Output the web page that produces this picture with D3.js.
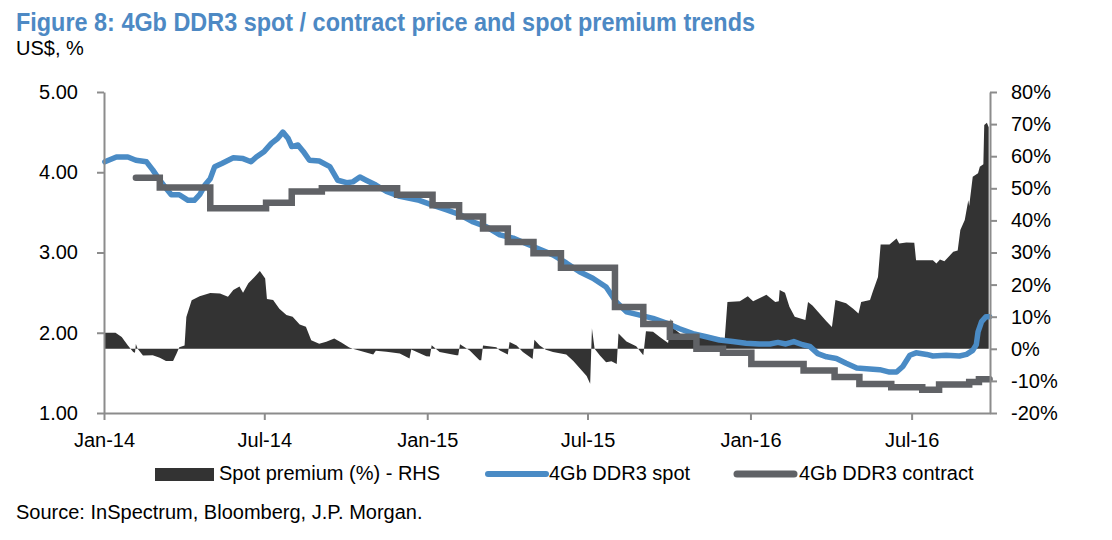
<!DOCTYPE html>
<html>
<head>
<meta charset="utf-8">
<script src="https://cdn.jsdelivr.net/npm/d3@7"></script>
<style>
  html, body { margin: 0; padding: 0; background: #ffffff; }
  svg { display: block; }
  text { font-family: "Liberation Sans", Arial, Helvetica, sans-serif; }
</style>
</head>
<body>
<svg id="chart" width="1112" height="540"></svg>
<script>
// ---------------- DATA ----------------
const titleText = "Figure 8: 4Gb DDR3 spot / contract price and spot premium trends";
const unitText = "US$, %";
const sourceText = "Source: InSpectrum, Bloomberg, J.P. Morgan.";
const seriesNames = ["Spot premium (%) - RHS", "4Gb DDR3 spot", "4Gb DDR3 contract"];

const leftTicks = [1, 2, 3, 4, 5];
const rightTicks = [-20, -10, 0, 10, 20, 30, 40, 50, 60, 70, 80];
const xStart = "2014-01-01";
const xEnd = "2016-09-27";

const spotDates = [
  "2014-01-02","2014-01-15","2014-01-28","2014-02-06","2014-02-18","2014-02-25","2014-03-05","2014-03-12",
  "2014-03-18","2014-03-27","2014-04-06","2014-04-13","2014-04-19","2014-04-25","2014-05-01","2014-05-06",
  "2014-05-14","2014-05-27","2014-06-07","2014-06-16","2014-06-22","2014-07-01","2014-07-09","2014-07-16",
  "2014-07-22","2014-07-28","2014-08-01","2014-08-08","2014-08-14","2014-08-21","2014-09-01","2014-09-13",
  "2014-09-22","2014-10-02","2014-10-09","2014-10-17","2014-10-24","2014-11-04","2014-11-16","2014-12-01",
  "2014-12-23","2015-01-07","2015-01-23","2015-02-07","2015-02-22","2015-03-09","2015-03-24","2015-04-08",
  "2015-04-23","2015-05-08","2015-05-23","2015-06-07","2015-06-22","2015-07-07","2015-07-22","2015-08-02",
  "2015-08-14","2015-08-29","2015-09-13","2015-09-28","2015-10-13","2015-10-28","2015-11-12","2015-11-27",
  "2015-12-12","2015-12-27","2016-01-11","2016-01-23","2016-02-01","2016-02-10","2016-02-19","2016-02-29",
  "2016-03-08","2016-03-17","2016-03-27","2016-04-07","2016-04-18","2016-04-30","2016-05-11","2016-05-26",
  "2016-06-06","2016-06-14","2016-06-21","2016-06-29","2016-07-06","2016-07-18","2016-07-25","2016-08-09",
  "2016-08-24","2016-09-01","2016-09-08","2016-09-12","2016-09-14","2016-09-18","2016-09-23","2016-09-27"
];
const spotValues = [
  4.13,4.19,4.19,4.15,4.13,4.03,3.90,3.80,
  3.72,3.72,3.65,3.65,3.72,3.84,3.92,4.07,
  4.11,4.18,4.17,4.13,4.19,4.26,4.36,4.42,
  4.50,4.42,4.32,4.34,4.26,4.15,4.14,4.07,
  3.90,3.87,3.88,3.94,3.90,3.84,3.76,3.70,
  3.65,3.59,3.53,3.47,3.38,3.32,3.22,3.18,
  3.11,3.04,2.97,2.87,2.76,2.68,2.57,2.39,
  2.26,2.22,2.18,2.12,2.05,1.99,1.95,1.91,
  1.89,1.87,1.86,1.86,1.88,1.86,1.89,1.85,
  1.83,1.74,1.70,1.68,1.62,1.56,1.55,1.54,
  1.51,1.51,1.58,1.72,1.75,1.73,1.71,1.72,
  1.71,1.73,1.78,1.85,2.01,2.14,2.20,2.20
];

const contractDates = [
  "2014-02-06","2014-03-05","2014-05-01","2014-07-03","2014-08-01","2014-09-04","2014-11-28",
  "2015-01-07","2015-02-06","2015-03-05","2015-04-02","2015-05-01","2015-06-01","2015-08-01",
  "2015-09-02","2015-10-02","2015-11-01","2015-12-01","2016-01-02","2016-03-01","2016-04-05",
  "2016-05-03","2016-06-08","2016-07-13","2016-08-01","2016-09-04","2016-09-15","2016-09-27"
];
const contractValues = [
  3.93,3.81,3.55,3.62,3.76,3.80,3.72,
  3.59,3.45,3.30,3.13,2.99,2.81,2.32,
  2.11,1.95,1.80,1.75,1.61,1.53,1.45,
  1.36,1.32,1.29,1.355,1.385,1.42,1.42
];

const premiumDates = [
  "2014-01-02","2014-01-14","2014-01-21","2014-01-28","2014-02-03","2014-02-05","2014-02-06","2014-02-08",
  "2014-02-14","2014-02-25","2014-03-05","2014-03-12","2014-03-20","2014-03-24","2014-03-27","2014-04-02",
  "2014-04-04","2014-04-10","2014-04-19","2014-05-01","2014-05-12","2014-05-21","2014-05-27","2014-06-03",
  "2014-06-07","2014-06-13","2014-06-20","2014-06-26","2014-07-02","2014-07-04","2014-07-11","2014-07-18",
  "2014-07-26","2014-08-02","2014-08-10","2014-08-17","2014-08-23","2014-09-01","2014-09-09","2014-09-18",
  "2014-09-26","2014-10-05","2014-10-09","2014-10-17","2014-11-01","2014-11-04","2014-11-16","2014-12-01",
  "2014-12-12","2014-12-14","2014-12-31","2015-01-04","2015-01-06","2015-01-15","2015-02-03","2015-02-05",
  "2015-02-07","2015-02-18","2015-03-01","2015-03-03","2015-03-05","2015-03-20","2015-03-24","2015-04-02",
  "2015-04-04","2015-04-12","2015-04-19","2015-04-30","2015-05-02","2015-05-08","2015-05-15","2015-05-23",
  "2015-06-07","2015-06-15","2015-06-22","2015-06-30","2015-07-04","2015-07-06","2015-07-09","2015-07-15",
  "2015-07-22","2015-07-28","2015-08-03","2015-08-05","2015-08-14","2015-08-25","2015-09-02","2015-09-05",
  "2015-09-13","2015-09-21","2015-09-30","2015-10-03","2015-10-07","2015-10-17","2015-10-28","2015-11-01",
  "2015-11-08","2015-12-03","2015-12-06","2015-12-20","2015-12-29","2016-01-04","2016-01-19","2016-01-29",
  "2016-02-02","2016-02-03","2016-02-09","2016-02-14","2016-02-20","2016-03-03","2016-03-06","2016-03-11",
  "2016-03-19","2016-03-27","2016-04-02","2016-04-06","2016-04-18","2016-04-26","2016-05-02","2016-05-05",
  "2016-05-15","2016-05-18","2016-05-24","2016-05-27","2016-06-06","2016-06-14","2016-06-17","2016-06-25",
  "2016-07-04","2016-07-06","2016-07-25","2016-07-29","2016-08-02","2016-08-07","2016-08-17","2016-08-22",
  "2016-08-25","2016-08-30","2016-09-03","2016-09-04","2016-09-08","2016-09-14","2016-09-16","2016-09-20",
  "2016-09-21","2016-09-24","2016-09-26"
];
const premiumValues = [
  5.0,5.0,3.7,1.0,-1.0,-1.2,1.5,0.0,
  -2.1,-2.0,-2.8,-3.8,-3.8,-1.5,0.5,1.0,
  9.9,15.1,16.4,17.4,17.2,16.2,18.3,19.4,
  17.5,20.4,22.4,24.2,21.9,15.5,15.2,12.5,
  10.5,10.0,7.6,6.9,2.7,1.6,2.2,3.2,
  2.0,0.4,0.0,-0.6,-1.8,-0.6,-0.9,-1.5,
  -3.0,-0.2,-2.3,-2.4,1.1,-1.0,-2.0,-2.0,
  1.4,-0.5,-3.6,-3.6,1.0,0.5,-0.5,-1.8,
  2.1,1.0,-1.0,-3.2,2.8,1.0,-0.3,-1.0,
  -1.8,-3.8,-6.0,-8.5,-10.9,6.3,0.0,-2.1,
  -4.2,-3.9,-4.7,4.8,2.3,0.8,-2.0,5.5,
  5.3,3.6,1.8,9.4,6.2,4.0,3.1,4.8,
  3.7,3.4,14.6,14.8,16.4,14.8,16.8,14.6,
  14.8,18.3,17.5,13.1,10.0,9.0,14.6,13.5,
  11.0,8.5,6.8,15.2,14.2,12.5,11.0,14.6,
  15.2,17.7,22.4,32.5,32.5,34.4,32.8,33.1,
  33.0,27.6,27.6,26.6,27.8,27.3,30.2,30.6,
  37.0,40.1,46.3,44.5,53.6,54.7,56.7,57.5,
  69.7,70.4,69.0
];

// ---------------- DRAWING ----------------
const parse = d3.timeParse("%Y-%m-%d");
const svg = d3.select("#chart");

const C = {
  title: "#4d89c4",
  area: "#333333",
  spot: "#4a8bc5",
  contract: "#606266",
  axis: "#8c8c8c"
};

const plot = { left: 104, right: 990, top: 92, bottom: 413 };

const x = d3.scaleTime()
  .domain([parse(xStart), d3.timeHour.offset(parse(xEnd), 12)])
  .range([plot.left, plot.right]);
const yL = d3.scaleLinear().domain([1, 5]).range([plot.bottom, plot.top]);
const yR = d3.scaleLinear().domain([-20, 80]).range([plot.bottom, plot.top]);

const spot = spotDates.map((d, i) => ({ date: parse(d), v: spotValues[i] }));
const contract = contractDates.map((d, i) => ({ date: parse(d), v: contractValues[i] }));
const premium = premiumDates.map((d, i) => ({ date: parse(d), v: premiumValues[i] }));

// Title & unit
svg.append("text")
  .attr("x", 16).attr("y", 31)
  .attr("textLength", 739).attr("lengthAdjust", "spacingAndGlyphs")
  .style("font-family", '"Liberation Sans Narrow", "Arial Narrow", "Liberation Sans", Arial, sans-serif')
  .style("font-weight", "bold").style("font-size", "26px")
  .attr("fill", C.title)
  .text(titleText);

svg.append("text")
  .attr("x", 16).attr("y", 55)
  .style("font-size", "20px").attr("fill", "#000")
  .text(unitText);

// Area (spot premium, right axis)
const area = d3.area()
  .x(d => x(d.date))
  .y0(yR(0))
  .y1(d => yR(d.v));
svg.append("path")
  .datum(premium)
  .attr("d", area)
  .attr("fill", C.area);

// Spot line
const spotLine = d3.line().x(d => x(d.date)).y(d => yL(d.v));
svg.append("path")
  .datum(spot)
  .attr("d", spotLine)
  .attr("fill", "none")
  .attr("stroke", C.spot)
  .attr("stroke-width", 5.5)
  .attr("stroke-linejoin", "round")
  .attr("stroke-linecap", "round");

// Contract line (step)
const contractLine = d3.line().curve(d3.curveStepAfter).x(d => x(d.date)).y(d => yL(d.v));
svg.append("path")
  .datum(contract)
  .attr("d", contractLine)
  .attr("fill", "none")
  .attr("stroke", C.contract)
  .attr("stroke-width", 6.5)
  .attr("stroke-linejoin", "miter")
  .attr("stroke-linecap", "round");

// Axes
function styleAxis(g) {
  g.selectAll("path.domain").attr("stroke", C.axis).attr("stroke-width", 2);
  g.selectAll(".tick line").attr("stroke", C.axis).attr("stroke-width", 2);
  g.selectAll(".tick text")
    .style("font-family", '"Liberation Sans", Arial, sans-serif')
    .style("font-size", "20px")
    .attr("fill", "#000");
}

svg.append("g")
  .attr("transform", `translate(${plot.left},0)`)
  .call(d3.axisLeft(yL).tickValues(leftTicks).tickFormat(d3.format(".2f"))
    .tickSize(7).tickSizeOuter(0).tickPadding(19))
  .call(styleAxis);

svg.append("g")
  .attr("transform", `translate(${plot.right},0)`)
  .call(d3.axisRight(yR).tickValues(rightTicks).tickFormat(d => d + "%")
    .tickSize(7).tickSizeOuter(0).tickPadding(14))
  .call(styleAxis);

svg.append("g")
  .attr("transform", `translate(0,${plot.bottom})`)
  .call(d3.axisBottom(x).ticks(d3.timeMonth.every(6)).tickFormat(d3.timeFormat("%b-%y"))
    .tickSize(7).tickSizeOuter(0).tickPadding(13))
  .call(styleAxis);

// Legend
const lg = svg.append("g").attr("class", "legend");
const legY = 480;
lg.append("rect").attr("x", 155).attr("y", legY - 12).attr("width", 59).attr("height", 13).attr("fill", C.area);
lg.append("text").attr("x", 219).attr("y", legY).style("font-size", "20px").text(seriesNames[0]);
lg.append("line").attr("x1", 488).attr("x2", 546).attr("y1", legY - 6).attr("y2", legY - 6)
  .attr("stroke", C.spot).attr("stroke-width", 6).attr("stroke-linecap", "round");
lg.append("text").attr("x", 549).attr("y", legY).style("font-size", "20px").text(seriesNames[1]);
lg.append("line").attr("x1", 737).attr("x2", 794).attr("y1", legY - 6).attr("y2", legY - 6)
  .attr("stroke", C.contract).attr("stroke-width", 7).attr("stroke-linecap", "round");
lg.append("text").attr("x", 799).attr("y", legY).style("font-size", "20px").text(seriesNames[2]);

// Source
svg.append("text")
  .attr("x", 16).attr("y", 519)
  .style("font-size", "20px").attr("fill", "#000")
  .text(sourceText);
</script>
</body>
</html>
